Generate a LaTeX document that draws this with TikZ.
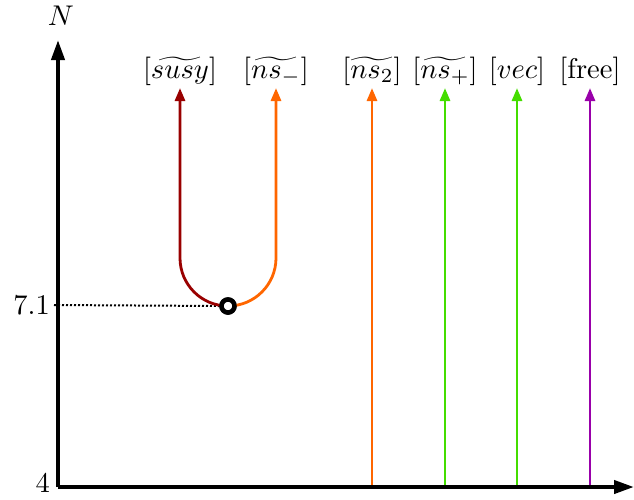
\documentclass[tikz,border=0pt]{standalone}
\usepackage{amsmath}
\usepackage{graphicx}
\usetikzlibrary{arrows.meta}
\definecolor{cSusy}{RGB}{153,0,0}
\definecolor{cOrange}{RGB}{255,102,0}
\definecolor{cGreen}{RGB}{68,221,0}
\definecolor{cPurple}{RGB}{153,0,170}
\newcommand{\bigtxt}[1]{\scalebox{2.85}{#1}}
\begin{document}
\begin{tikzpicture}[x=1pt,y=-1pt,
  axis/.style={line width=4pt,-{Triangle[length=20pt,width=13pt]}},
  branch/.style={line width=2.8pt,-{Triangle[length=13pt,width=10pt]}},
  lbl/.style={inner sep=0pt},
  tick/.style={inner sep=0pt,anchor=east},
  vertex/.style={circle,draw,line width=4.5pt,fill=white,inner sep=0pt,minimum size=13pt}]
\useasboundingbox (0,0) rectangle (634,499);
% axes
\coordinate (O) at (58,487);
\coordinate (ytop) at (58,40);
\coordinate (xend) at (634,487);
\draw[axis] (O) -- (ytop);
\draw[axis] (O) -- (xend);
\node[lbl] (Nlab) at (61,16) {\bigtxt{$N$}};
\node[tick] (t4) at (50,483) {\bigtxt{4}};
\node[tick] (t71) at (50,305) {\bigtxt{7.1}};
% branch point
\node[vertex] (bp) at (228,306) {};
\draw[line width=2pt,dotted] (t71.east) ++(4,0) coordinate (d0) -- (bp.west);
% labels
\node[lbl] (l1) at (180,71) {\bigtxt{$[\widetilde{susy}]$}};
\node[lbl] (l2) at (276,71) {\bigtxt{$[\widetilde{ns_-}]$}};
\node[lbl] (l3) at (372,71) {\bigtxt{$[\widetilde{ns_2}]$}};
\node[lbl] (l4) at (445,71) {\bigtxt{$[\widetilde{ns_+}]$}};
\node[lbl] (l5) at (517,71) {\bigtxt{$[vec]$}};
\node[lbl] (l6) at (590,71) {\bigtxt{$[\mathrm{free}]$}};
% arrow tips just below the labels
\foreach \i/\x in {1/180,2/276,3/372,4/445,5/517,6/590}
  \coordinate (a\i) at (\x,88);
% branches from the branch point
\draw[branch,cSusy] (bp.center) arc[start angle=90,end angle=180,radius=48] -- (a1);
\draw[branch,cOrange] (bp.center) arc[start angle=90,end angle=0,radius=48] -- (a2);
% branches from the axis
\foreach \i/\x/\c in {3/372/cOrange,4/445/cGreen,5/517/cGreen,6/590/cPurple}{
  \coordinate (b\i) at (\x,485);
  \draw[branch,\c] (b\i) -- (a\i);
}
\node[vertex] at (bp) {};
\end{tikzpicture}
\end{document}
